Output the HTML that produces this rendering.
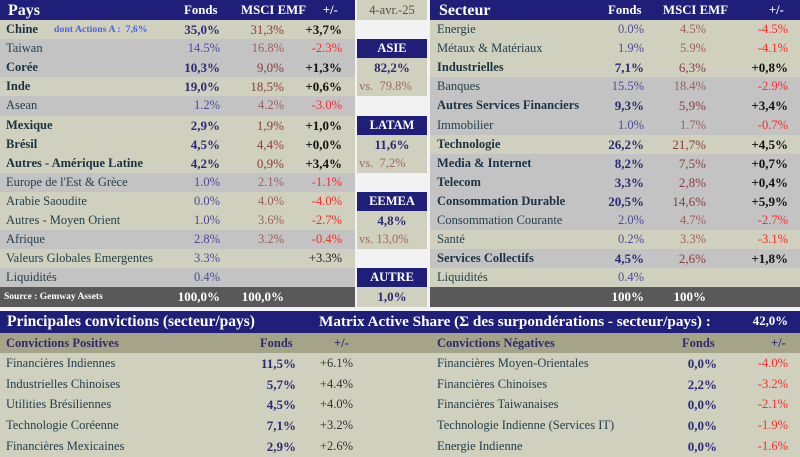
<!DOCTYPE html>
<html><head><meta charset="utf-8">
<style>
*{box-sizing:border-box}
body{margin:0;width:800px;height:456px;background:#f2f2f2;position:relative;overflow:hidden;font-family:"Liberation Serif","DejaVu Serif",serif;}
.a{position:absolute;white-space:nowrap}
.row{position:absolute;height:19.2px}
.row span{position:absolute;top:0;line-height:19px;white-space:nowrap;font-size:12.5px}
.L{left:0;width:355px}
.R{left:430px;width:370px}
.b{background:#d0d0be}
.g{background:#c3c3c3}
.dk{background:#595959}
.nv{background:#1f1f79}
.nm{left:6px;color:#23404f}
.R .nm{left:7px}
.bd .nm{font-weight:bold;color:#1b3345}
.f{color:#4b4b98}
.m{color:#9c5f5f}
.bd .f{font-weight:bold;color:#2a2a78;font-size:13px}
.bd .m{color:#8a3c3c;font-size:13px}
.L .f{right:135px}.L .m{right:71px}.L .d{right:13px}
.R .f{right:156px}.R .m{right:94px}.R .d{right:12px}
.neg{color:#ff2a2a}
.row span.pos{color:#111;font-weight:bold;font-size:13px}
.hd{color:#fff;font-weight:bold}
.mid{position:absolute;left:357px;width:70px;height:19.2px;line-height:19px;text-align:center;font-size:12.5px;white-space:pre}
.brow{position:absolute;left:0;width:800px;height:20.8px;background:#d0d0be}
.brow span{position:absolute;top:0;line-height:21px;font-size:12.5px;white-space:nowrap}
</style></head><body>

<div class="a nv" style="left:0;top:0;width:355px;height:20px"></div>
<div class="a hd" style="left:8px;top:0;line-height:21px;font-size:16px">Pays</div>
<div class="a hd" style="left:184px;top:0;line-height:20px;font-size:12.8px">Fonds</div>
<div class="a hd" style="left:241px;top:0;line-height:20px;font-size:12.8px">MSCI EMF</div>
<div class="a hd" style="left:323px;top:0;line-height:20px;font-size:12.5px">+/-</div>

<div class="a nv" style="left:430px;top:0;width:370px;height:20px"></div>
<div class="a hd" style="left:439px;top:0;line-height:21px;font-size:16px">Secteur</div>
<div class="a hd" style="left:608px;top:0;line-height:20px;font-size:12.8px">Fonds</div>
<div class="a hd" style="left:663px;top:0;line-height:20px;font-size:12.8px">MSCI EMF</div>
<div class="a hd" style="left:769px;top:0;line-height:20px;font-size:12.5px">+/-</div>

<div class="row L b bd" style="top:20px"><span class="nm">Chine</span><span style="left:54px;font-size:9.8px;font-weight:bold;color:#4a64e8">dont Actions A :&nbsp; 7,6%</span><span class="f">35,0%</span><span class="m">31,3%</span><span class="d pos">+3,7%</span></div>
<div class="row L g" style="top:39.1px"><span class="nm">Taiwan</span><span class="f">14.5%</span><span class="m">16.8%</span><span class="d neg">-2.3%</span></div>
<div class="row L g bd" style="top:58.2px"><span class="nm">Corée</span><span class="f">10,3%</span><span class="m">9,0%</span><span class="d pos">+1,3%</span></div>
<div class="row L b bd" style="top:77.3px"><span class="nm">Inde</span><span class="f">19,0%</span><span class="m">18,5%</span><span class="d pos">+0,6%</span></div>
<div class="row L g" style="top:96.4px"><span class="nm">Asean</span><span class="f">1.2%</span><span class="m">4.2%</span><span class="d neg">-3.0%</span></div>
<div class="row L b bd" style="top:115.5px"><span class="nm">Mexique</span><span class="f">2,9%</span><span class="m">1,9%</span><span class="d pos">+1,0%</span></div>
<div class="row L b bd" style="top:134.6px"><span class="nm">Brésil</span><span class="f">4,5%</span><span class="m">4,4%</span><span class="d pos">+0,0%</span></div>
<div class="row L b bd" style="top:153.7px"><span class="nm">Autres - Amérique Latine</span><span class="f">4,2%</span><span class="m">0,9%</span><span class="d pos">+3,4%</span></div>
<div class="row L g" style="top:172.8px"><span class="nm">Europe de l'Est &amp; Grèce</span><span class="f">1.0%</span><span class="m">2.1%</span><span class="d neg">-1.1%</span></div>
<div class="row L b" style="top:191.9px"><span class="nm">Arabie Saoudite</span><span class="f">0.0%</span><span class="m">4.0%</span><span class="d neg">-4.0%</span></div>
<div class="row L b" style="top:211px"><span class="nm">Autres - Moyen Orient</span><span class="f">1.0%</span><span class="m">3.6%</span><span class="d neg">-2.7%</span></div>
<div class="row L g" style="top:230.1px"><span class="nm">Afrique</span><span class="f">2.8%</span><span class="m">3.2%</span><span class="d neg">-0.4%</span></div>
<div class="row L b" style="top:249.2px"><span class="nm">Valeurs Globales Emergentes</span><span class="f">3.3%</span><span class="d" style="color:#222">+3.3%</span></div>
<div class="row L g" style="top:268.3px"><span class="nm">Liquidités</span><span class="f">0.4%</span></div>
<div class="row L dk" style="top:287.4px;height:19.3px"><span style="left:4px;font-size:9.5px;font-weight:bold;color:#fff;line-height:20px">Source : Gemway Assets</span><span class="f" style="font-weight:bold;color:#fff;font-size:13px">100,0%</span><span class="m" style="font-weight:bold;color:#fff;font-size:13px">100,0%</span></div>

<div class="mid b" style="top:0;height:19.5px;line-height:20px;color:#505050">4-avr.-25</div>
<div class="mid nv hd" style="top:39.1px">ASIE</div>
<div class="mid b" style="top:58.2px;font-weight:bold;color:#2a2a78;font-size:13px">82,2%</div>
<div class="mid b" style="top:77.3px;text-align:left;padding-left:2px;color:#a06a60">vs.  79.8%</div>
<div class="mid nv hd" style="top:115.5px">LATAM</div>
<div class="mid b" style="top:134.6px;font-weight:bold;color:#2a2a78;font-size:13px">11,6%</div>
<div class="mid b" style="top:153.7px;text-align:left;padding-left:2px;color:#a06a60">vs.  7,2%</div>
<div class="mid nv hd" style="top:191.9px">EEMEA</div>
<div class="mid b" style="top:211px;font-weight:bold;color:#2a2a78;font-size:13px">4,8%</div>
<div class="mid b" style="top:230.1px;text-align:left;padding-left:2px;color:#a06a60">vs. 13,0%</div>
<div class="mid nv hd" style="top:268.3px">AUTRE</div>
<div class="mid b" style="top:287.4px;height:19.3px;font-weight:bold;color:#2a2a78;font-size:13px">1,0%</div>

<div class="row R b" style="top:20px"><span class="nm">Energie</span><span class="f">0.0%</span><span class="m">4.5%</span><span class="d neg">-4.5%</span></div>
<div class="row R b" style="top:39.1px"><span class="nm">Métaux &amp; Matériaux</span><span class="f">1.9%</span><span class="m">5.9%</span><span class="d neg">-4.1%</span></div>
<div class="row R b bd" style="top:58.2px"><span class="nm">Industrielles</span><span class="f">7,1%</span><span class="m">6,3%</span><span class="d pos">+0,8%</span></div>
<div class="row R g" style="top:77.3px"><span class="nm">Banques</span><span class="f">15.5%</span><span class="m">18.4%</span><span class="d neg">-2.9%</span></div>
<div class="row R g bd" style="top:96.4px"><span class="nm">Autres Services Financiers</span><span class="f">9,3%</span><span class="m">5,9%</span><span class="d pos">+3,4%</span></div>
<div class="row R g" style="top:115.5px"><span class="nm">Immobilier</span><span class="f">1.0%</span><span class="m">1.7%</span><span class="d neg">-0.7%</span></div>
<div class="row R b bd" style="top:134.6px"><span class="nm">Technologie</span><span class="f">26,2%</span><span class="m">21,7%</span><span class="d pos">+4,5%</span></div>
<div class="row R g bd" style="top:153.7px"><span class="nm">Media &amp; Internet</span><span class="f">8,2%</span><span class="m">7,5%</span><span class="d pos">+0,7%</span></div>
<div class="row R g bd" style="top:172.8px"><span class="nm">Telecom</span><span class="f">3,3%</span><span class="m">2,8%</span><span class="d pos">+0,4%</span></div>
<div class="row R g bd" style="top:191.9px"><span class="nm">Consommation Durable</span><span class="f">20,5%</span><span class="m">14,6%</span><span class="d pos">+5,9%</span></div>
<div class="row R g" style="top:211px"><span class="nm">Consommation Courante</span><span class="f">2.0%</span><span class="m">4.7%</span><span class="d neg">-2.7%</span></div>
<div class="row R b" style="top:230.1px"><span class="nm">Santé</span><span class="f">0.2%</span><span class="m">3.3%</span><span class="d neg">-3.1%</span></div>
<div class="row R g bd" style="top:249.2px"><span class="nm">Services Collectifs</span><span class="f">4,5%</span><span class="m">2,6%</span><span class="d pos">+1,8%</span></div>
<div class="row R b" style="top:268.3px"><span class="nm">Liquidités</span><span class="f">0.4%</span></div>
<div class="row R dk" style="top:287.4px;height:19.3px"><span class="f" style="font-weight:bold;color:#fff;font-size:13px">100%</span><span class="m" style="font-weight:bold;color:#fff;font-size:13px">100%</span></div>

<div class="a nv" style="left:0;top:311px;width:800px;height:21.5px"></div>
<div class="a hd" style="left:7px;top:311px;line-height:21px;font-size:15.5px">Principales convictions (secteur/pays)</div>
<div class="a hd" style="left:319px;top:311px;line-height:21px;font-size:15.2px">Matrix Active Share (Σ des surpondérations - secteur/pays) :</div>
<div class="a hd" style="right:12px;top:311px;line-height:21px;font-size:12.8px">42,0%</div>

<div class="a" style="left:0;top:332.5px;width:800px;height:20.3px;background:#a6a488"></div>
<div class="a" style="left:6px;top:332.5px;line-height:20px;font-size:12.5px;font-weight:bold;color:#2b2b6e">Convictions Positives</div>
<div class="a" style="left:260px;top:332.5px;line-height:20px;font-size:12.5px;font-weight:bold;color:#2b2b6e">Fonds</div>
<div class="a" style="left:334px;top:332.5px;line-height:20px;font-size:12.5px;font-weight:bold;color:#2b2b6e">+/-</div>
<div class="a" style="left:437px;top:332.5px;line-height:20px;font-size:12.5px;font-weight:bold;color:#2b2b6e">Convictions Négatives</div>
<div class="a" style="left:682px;top:332.5px;line-height:20px;font-size:12.5px;font-weight:bold;color:#2b2b6e">Fonds</div>
<div class="a" style="left:771px;top:332.5px;line-height:20px;font-size:12.5px;font-weight:bold;color:#2b2b6e">+/-</div>

<div class="brow" style="top:352.8px"><span style="left:6px;color:#23404f">Financières Indiennes</span><span style="right:504px;font-weight:bold;color:#2a2a78;font-size:13px">11,5%</span><span style="right:447px;color:#333">+6.1%</span><span style="left:437px;color:#23404f">Financières Moyen-Orientales</span><span style="right:83px;font-weight:bold;color:#2a2a78;font-size:13px">0,0%</span><span style="right:12px;color:#ff2a2a">-4.0%</span></div>
<div class="brow" style="top:373.6px"><span style="left:6px;color:#23404f">Industrielles Chinoises</span><span style="right:504px;font-weight:bold;color:#2a2a78;font-size:13px">5,7%</span><span style="right:447px;color:#333">+4.4%</span><span style="left:437px;color:#23404f">Financières Chinoises</span><span style="right:83px;font-weight:bold;color:#2a2a78;font-size:13px">2,2%</span><span style="right:12px;color:#ff2a2a">-3.2%</span></div>
<div class="brow" style="top:394.4px"><span style="left:6px;color:#23404f">Utilities Brésiliennes</span><span style="right:504px;font-weight:bold;color:#2a2a78;font-size:13px">4,5%</span><span style="right:447px;color:#333">+4.0%</span><span style="left:437px;color:#23404f">Financières Taiwanaises</span><span style="right:83px;font-weight:bold;color:#2a2a78;font-size:13px">0,0%</span><span style="right:12px;color:#ff2a2a">-2.1%</span></div>
<div class="brow" style="top:415.2px"><span style="left:6px;color:#23404f">Technologie Coréenne</span><span style="right:504px;font-weight:bold;color:#2a2a78;font-size:13px">7,1%</span><span style="right:447px;color:#333">+3.2%</span><span style="left:437px;color:#23404f">Technologie Indienne (Services IT)</span><span style="right:83px;font-weight:bold;color:#2a2a78;font-size:13px">0,0%</span><span style="right:12px;color:#ff2a2a">-1.9%</span></div>
<div class="brow" style="top:436px"><span style="left:6px;color:#23404f">Financières Mexicaines</span><span style="right:504px;font-weight:bold;color:#2a2a78;font-size:13px">2,9%</span><span style="right:447px;color:#333">+2.6%</span><span style="left:437px;color:#23404f">Energie Indienne</span><span style="right:83px;font-weight:bold;color:#2a2a78;font-size:13px">0,0%</span><span style="right:12px;color:#ff2a2a">-1.6%</span></div>

</body></html>
